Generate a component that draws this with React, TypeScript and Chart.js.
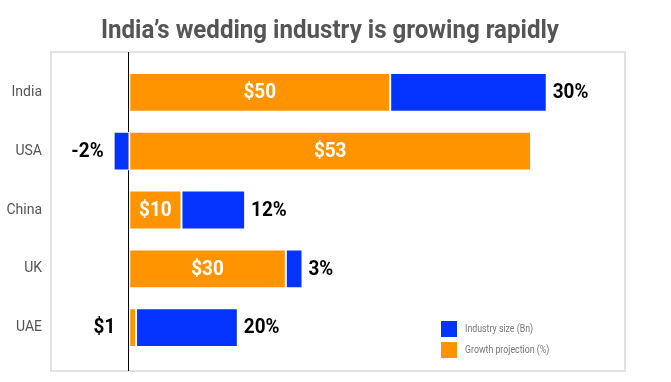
import React, { useEffect, useRef } from 'react';
import { Chart, registerables } from 'chart.js';

Chart.register(...registerables);

const titleText = 'India\u2019s wedding industry is growing rapidly';
const categories = ['India', 'USA', 'China', 'UK', 'UAE'];
// orange segment (dollar labels), lengths as drawn in the picture
const dollarValues = [50, 77, 10, 30, 1.3];
const dollarLabels = ['$50', '$53', '$10', '$30', '$1'];
// blue segment (percent labels)
const percentValues = [30, -3, 12.2, 3.2, 19.5];
const percentLabels = ['30%', '-2%', '12%', '3%', '20%'];
const legendLabels = ['Industry size (Bn)', 'Growth projection (%)'];

const ORANGE = '#FF9300';
const BLUE = '#0433FF';
const FONT = 'Roboto, "Liberation Sans", sans-serif';
const LABEL_SX = 0.97;

function drawText(
  ctx: CanvasRenderingContext2D,
  text: string,
  x: number,
  y: number,
  align: 'left' | 'right' | 'center',
  font: string,
  color: string,
  sx: number,
  baseline: CanvasTextBaseline = 'middle'
) {
  ctx.save();
  ctx.font = font;
  ctx.fillStyle = color;
  ctx.textBaseline = baseline;
  ctx.textAlign = 'left';
  const w = ctx.measureText(text).width * sx;
  const left = align === 'left' ? x : align === 'right' ? x - w : x - w / 2;
  ctx.translate(left, y);
  ctx.scale(sx, 1);
  ctx.fillText(text, 0, 0);
  ctx.restore();
}

const decorPlugin = {
  id: 'decor',
  beforeDatasetsDraw(chart: any) {
    const ctx = chart.ctx as CanvasRenderingContext2D;
    const ca = chart.chartArea;
    const top = ca.top - 11;
    const bottom = ca.bottom + 14;
    // box
    ctx.save();
    ctx.strokeStyle = '#e2e2e2';
    ctx.lineWidth = 2;
    ctx.strokeRect(ca.left, top, ca.right - ca.left, bottom - top);
    // zero line
    const x0 = Math.round(chart.scales.x.getPixelForValue(0)) - 0.5;
    ctx.strokeStyle = '#000';
    ctx.lineWidth = 1;
    ctx.beginPath();
    ctx.moveTo(x0, top);
    ctx.lineTo(x0, bottom);
    ctx.stroke();
    ctx.restore();

    // title
    ctx.save();
    ctx.font = `bold 25px ${FONT}`;
    const tw = ctx.measureText(titleText).width;
    ctx.restore();
    const sx = 458 / tw;
    drawText(ctx, titleText, 330, 38, 'center', `bold 25px ${FONT}`, '#555555', sx, 'alphabetic');
  },
  afterDatasetsDraw(chart: any) {
    const ctx = chart.ctx as CanvasRenderingContext2D;
    const labelFont = `bold 19.5px ${FONT}`;
    const orangeMeta = chart.getDatasetMeta(0);
    const blueMeta = chart.getDatasetMeta(1);
    orangeMeta.data.forEach((bar: any, i: number) => {
      const text = dollarLabels[i];
      ctx.save();
      ctx.font = labelFont;
      const w = ctx.measureText(text).width * LABEL_SX;
      ctx.restore();
      const start = Math.min(bar.x, bar.base);
      const end = Math.max(bar.x, bar.base);
      if (end - start > w + 10) {
        drawText(ctx, text, (start + end) / 2, bar.y + 1, 'center', labelFont, '#fff', LABEL_SX);
      } else {
        drawText(ctx, text, start - 14, bar.y + 1, 'right', labelFont, '#000', LABEL_SX);
      }
    });
    blueMeta.data.forEach((bar: any, i: number) => {
      const text = percentLabels[i];
      if (percentValues[i] >= 0) {
        drawText(ctx, text, bar.x + 6, bar.y + 1, 'left', labelFont, '#000', LABEL_SX);
      } else {
        drawText(ctx, text, bar.x - 10, bar.y + 1, 'right', labelFont, '#000', LABEL_SX);
      }
    });

    // legend
    const ca = chart.chartArea;
    const lx = ca.right - 184;
    const ly = ca.bottom - 36;
    const colors = [BLUE, ORANGE];
    legendLabels.forEach((t, i) => {
      const y = ly + i * 21;
      ctx.fillStyle = colors[i];
      ctx.fillRect(lx, y, 16, 16);
      drawText(ctx, t, lx + 24, y + 8.5, 'left', `11px ${FONT}`, '#777', 0.8);
    });
  },
};

export default function App() {
  const ref = useRef<HTMLCanvasElement | null>(null);
  useEffect(() => {
    if (!ref.current) return;
    const chart = new Chart(ref.current, {
      type: 'bar',
      data: {
        labels: categories,
        datasets: [
          {
            label: legendLabels[1],
            data: dollarValues,
            backgroundColor: ORANGE,
            borderColor: '#fff',
            borderWidth: 1,
            borderSkipped: false,
            categoryPercentage: 0.66,
            barPercentage: 1,
          },
          {
            label: legendLabels[0],
            data: percentValues,
            backgroundColor: BLUE,
            borderColor: '#fff',
            borderWidth: 1,
            borderSkipped: false,
            categoryPercentage: 0.66,
            barPercentage: 1,
          },
        ],
      },
      options: {
        indexAxis: 'y',
        animation: false,
        responsive: false,
        devicePixelRatio: 1,
        layout: { padding: { top: 63, bottom: 25, left: 0, right: 46 } },
        plugins: {
          legend: { display: false },
          tooltip: { enabled: false },
          title: { display: false },
        },
        scales: {
          x: { display: false, stacked: true, min: -15, max: 95 },
          y: {
            stacked: true,
            grid: { display: false, drawTicks: false },
            border: { display: false },
            ticks: { padding: 9, color: '#555', font: { family: FONT, size: 14 } },
            afterFit: (s: any) => {
              s.width = 51;
            },
          },
        },
      } as any,
      plugins: [decorPlugin],
    });
    return () => chart.destroy();
  }, []);
  return (
    <div style={{ position: 'fixed', left: 0, top: 0, width: 671, height: 382, background: '#fff' }}>
      <canvas ref={ref} width={671} height={382} style={{ display: 'block' }} />
    </div>
  );
}
